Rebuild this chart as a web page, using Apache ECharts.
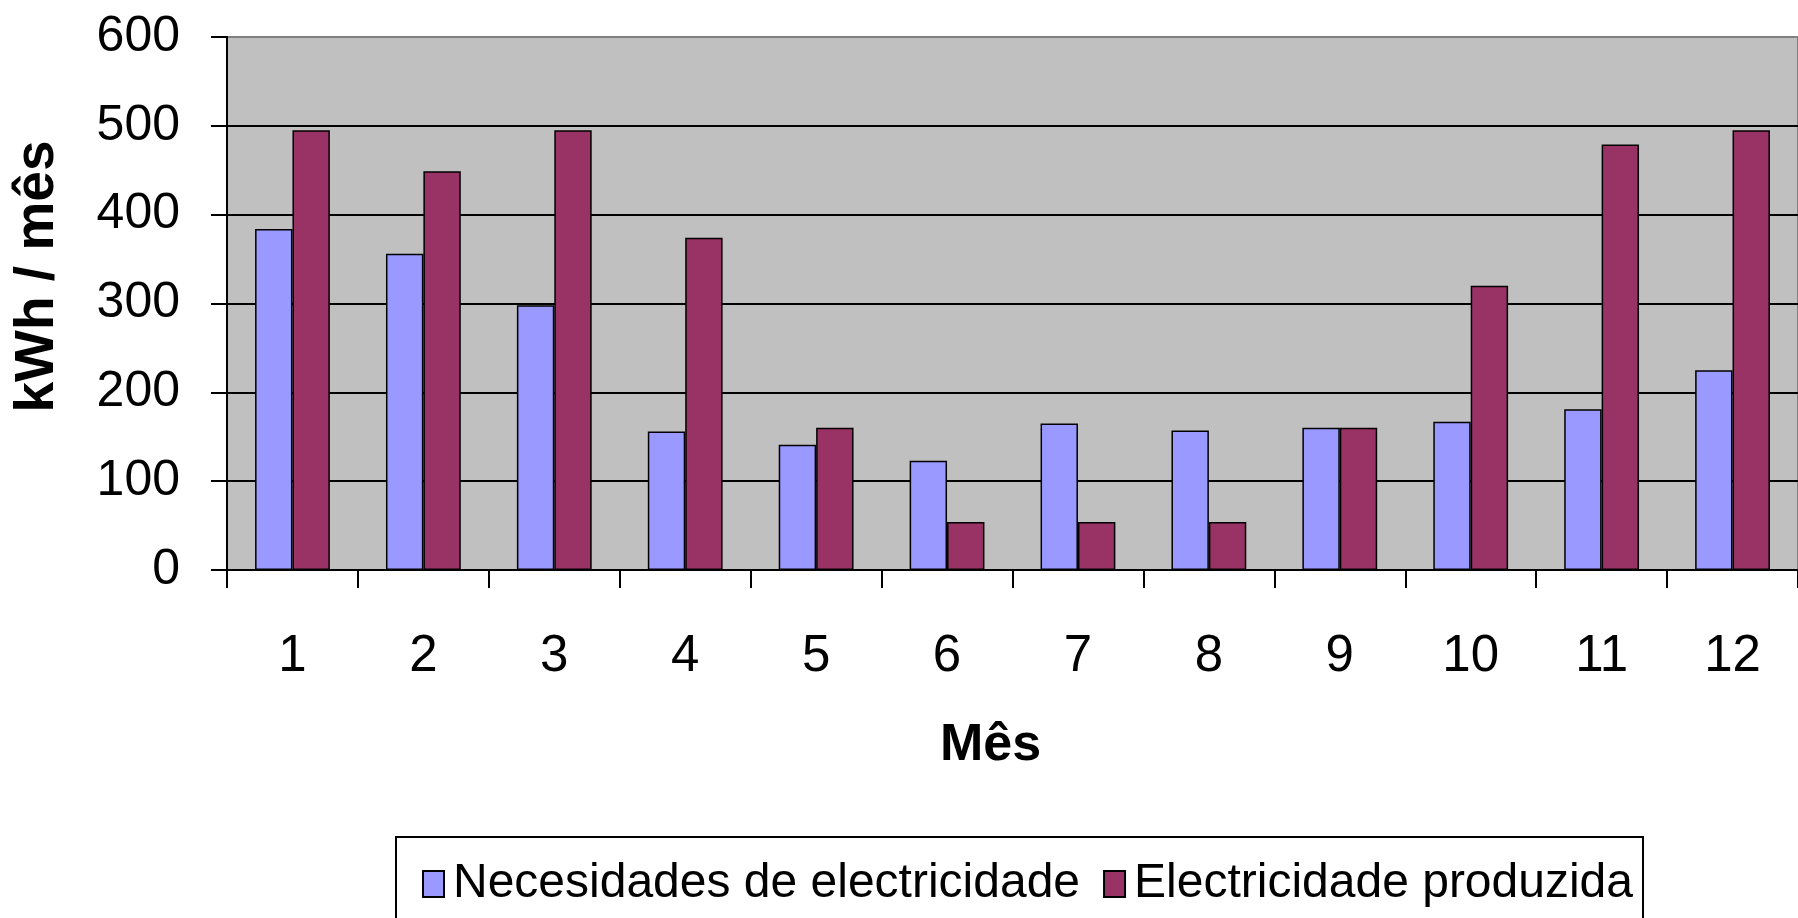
<!DOCTYPE html>
<html>
<head>
<meta charset="utf-8">
<style>
html,body{margin:0;padding:0;background:#fff;}
#chart{width:1798px;height:918px;}
</style>
<script src="https://cdn.jsdelivr.net/npm/echarts@6/dist/echarts.min.js"></script>
</head>
<body>
<div id="chart"></div>
<script>
const months = ['1','2','3','4','5','6','7','8','9','10','11','12'];
const needs = [384, 356, 298, 156, 141, 123, 165, 157, 160, 167, 181, 225];
const produced = [495, 449, 495, 374, 160, 54, 54, 54, 160, 320, 479, 495];
const yTicks = [0, 100, 200, 300, 400, 500, 600];
const seriesNames = ['Necesidades de electricidade', 'Electricidade produzida'];

const FONT = "'Liberation Sans', Arial, sans-serif";
const chart = echarts.init(document.getElementById('chart'), null, {renderer: 'canvas'});
chart.setOption({
  animation: false,
  backgroundColor: '#ffffff',
  textStyle: {fontFamily: FONT, color: '#000'},
  grid: {
    left: 227, top: 37, width: 1576, height: 533,
    show: true, backgroundColor: '#C0C0C0', borderColor: '#808080', borderWidth: 2
  },
  legend: {
    data: seriesNames,
    left: 396, top: 837,
    orient: 'horizontal',
    icon: 'rect',
    itemWidth: 21, itemHeight: 26,
    itemGap: 23,
    padding: [23, 10, 60, 26],
    borderColor: '#000', borderWidth: 2,
    textStyle: {fontFamily: FONT, fontSize: 48, color: '#000', padding: [0, 0, 0, 4]}
  },
  xAxis: {
    type: 'category',
    data: months,
    name: 'Mês',
    nameLocation: 'middle',
    nameGap: 150,
    nameTextStyle: {fontFamily: FONT, fontSize: 52, fontWeight: 'bold', color: '#000', padding: [0, 44, 0, 0]},
    axisLine: {show: true, lineStyle: {color: '#000', width: 2}},
    axisTick: {show: true, length: 18, lineStyle: {color: '#000', width: 2}},
    axisLabel: {margin: 61, fontSize: 51, color: '#000', fontFamily: FONT},
    splitLine: {show: false}
  },
  yAxis: {
    type: 'value',
    min: yTicks[0], max: yTicks[yTicks.length - 1], interval: 100,
    name: 'kWh / mês',
    nameLocation: 'middle',
    nameGap: 162,
    nameRotate: 90,
    nameTextStyle: {fontFamily: FONT, fontSize: 55, fontWeight: 'bold', color: '#000', padding: [0, 0, 0, 54]},
    axisLine: {show: true, lineStyle: {color: '#000', width: 2}},
    axisTick: {show: true, length: 16, lineStyle: {color: '#000', width: 2}},
    axisLabel: {margin: 47, fontSize: 50, color: '#000', fontFamily: FONT},
    splitLine: {show: true, lineStyle: {color: ['#000','#000','#000','#000','#000','#000','#808080'], width: 2}}
  },
  series: [
    {
      name: seriesNames[0], type: 'bar', data: needs,
      barGap: '0%', barCategoryGap: '42.86%',
      itemStyle: {color: '#9999FF', borderColor: '#000', borderWidth: 1.5}
    },
    {
      name: seriesNames[1], type: 'bar', data: produced,
      barGap: '0%', barCategoryGap: '42.86%',
      itemStyle: {color: '#993366', borderColor: '#000', borderWidth: 1.5}
    }
  ]
});
</script>
</body>
</html>
